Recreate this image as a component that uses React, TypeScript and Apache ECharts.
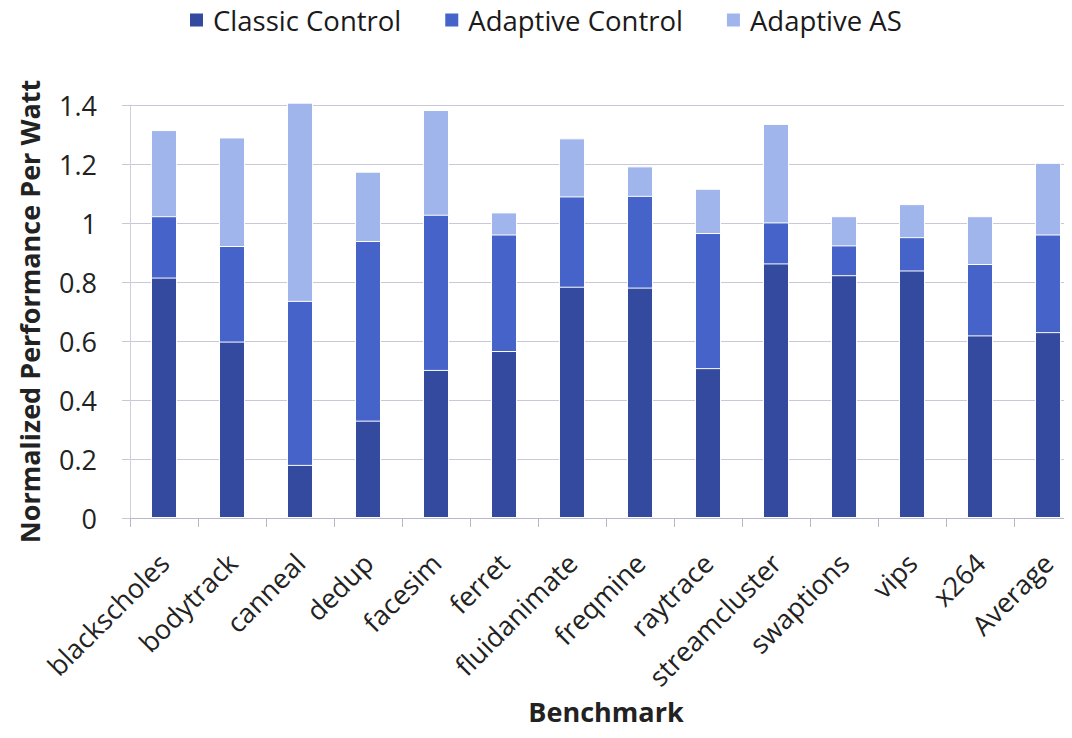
import React, { useEffect, useRef } from "react";
import * as echarts from "echarts";

// Benchmarks on the category axis
const benchmarks = [
  "blackscholes", "bodytrack", "canneal", "dedup", "facesim", "ferret",
  "fluidanimate", "freqmine", "raytrace", "streamcluster", "swaptions",
  "vips", "x264", "Average",
];

// Normalized performance per watt for each controller (overlaid bars, each a total)
const classicControl = [0.815, 0.598, 0.18, 0.33, 0.502, 0.566, 0.784, 0.781, 0.508, 0.863, 0.823, 0.839, 0.619, 0.63];
const adaptiveControl = [1.023, 0.922, 0.736, 0.939, 1.028, 0.961, 1.09, 1.092, 0.966, 1.002, 0.924, 0.952, 0.861, 0.961];
const adaptiveAS = [1.315, 1.29, 1.408, 1.174, 1.383, 1.036, 1.287, 1.192, 1.116, 1.336, 1.023, 1.064, 1.023, 1.204];

const seriesNames = ["Classic Control", "Adaptive Control", "Adaptive AS"];
const seriesColors = ["#334a9e", "#4563c8", "#a0b5ec"];

const FONT = "'Open Sans', 'Noto Sans', sans-serif";

export default function App() {
  const ref = useRef<HTMLDivElement>(null);

  useEffect(() => {
    if (!ref.current) return;
    const chart = echarts.init(ref.current, null, { renderer: "svg" });
    const values = [classicControl, adaptiveControl, adaptiveAS];

    chart.setOption({
      animation: false,
      textStyle: { fontFamily: FONT },
      legend: {
        data: seriesNames,
        left: 180,
        top: 6,
        padding: 0,
        itemWidth: 15,
        itemHeight: 15,
        itemGap: 42,
        icon: "rect",
        textStyle: {
          fontSize: 27.5,
          color: "#1a1a1a",
          fontFamily: FONT,
          padding: [0, 0, 0, 4],
        },
      },
      // the plot runs a little past the visible right edge
      grid: { left: 109, right: 0, top: 105, bottom: 205, containLabel: false },
      xAxis: {
        type: "category",
        data: benchmarks,
        name: "Benchmark",
        nameLocation: "middle",
        nameGap: 180,
        nameTextStyle: { fontSize: 27, fontWeight: "bold", color: "#222", fontFamily: FONT },
        axisLine: { show: true, lineStyle: { color: "#b8b8c8", width: 1 } },
        axisTick: { show: true, interval: 0, length: 9, lineStyle: { color: "#b8b8c8" } },
        axisLabel: {
          interval: 0,
          rotate: 45,
          margin: 40,
          fontSize: 27,
          color: "#222",
          fontFamily: FONT,
        },
      },
      yAxis: {
        type: "value",
        min: 0,
        max: 1.4,
        interval: 0.2,
        name: "Normalized Performance Per Watt",
        nameLocation: "middle",
        nameRotate: 90,
        nameGap: 87,
        nameTextStyle: { fontSize: 27, fontWeight: "bold", color: "#222", fontFamily: FONT },
        axisLine: { show: true, lineStyle: { color: "#d0d0dc", width: 1 } },
        axisTick: { show: true, length: 8, lineStyle: { color: "#c8c8d4" } },
        axisLabel: {
          fontSize: 27,
          color: "#222",
          margin: 33,
          fontFamily: FONT,
          formatter: (v: number) => (v === 0 || v === 1 ? String(v) : v.toFixed(1)),
        },
        splitLine: { show: true, lineStyle: { color: "#c8c8d8", width: 1 } },
      },
      series: seriesNames.map((name, i) => ({
        name,
        type: "bar",
        data: values[i],
        barWidth: 26,
        barGap: "-100%",
        clip: false,
        z: 10 - i,
        itemStyle: { color: seriesColors[i], borderColor: "#ffffff", borderWidth: 1 },
      })),
    });

    return () => chart.dispose();
  }, []);

  return (
    <div style={{ width: 1056, height: 730, overflow: "hidden", marginTop: -8 }}>
      <div ref={ref} style={{ width: 1074, height: 730 }} />
    </div>
  );
}
